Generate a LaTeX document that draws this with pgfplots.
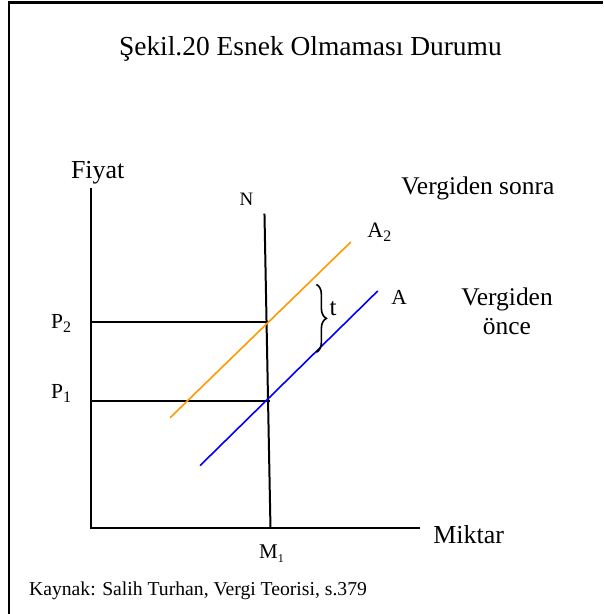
\documentclass[border=0pt]{standalone}
\usepackage{pgfplots}
\pgfplotsset{compat=1.18}
\usepackage{fontspec}
\setmainfont{Liberation Serif}
\usetikzlibrary{decorations.pathreplacing}
\definecolor{supplyorange}{RGB}{255,153,0}
\definecolor{supplyblue}{RGB}{0,0,255}

\newcommand{\fs}[1]{\fontsize{#1}{#1}\selectfont}
% letter with a lowered index, e.g. \sub{21}{P}{15}{2}
\newcommand{\sub}[4]{{\fs{#1}#2}\raisebox{-4pt}{\fs{#3}#4}}

\begin{document}
\begin{tikzpicture}
\begin{axis}[
  hide axis, scale only axis,
  width=603pt, height=614pt,
  xmin=0, xmax=603, ymin=0, ymax=614,
  y dir=reverse,
  clip=false,
  every axis plot/.append style={line cap=rect},
]
\path (axis cs:0,0) rectangle (axis cs:603,614);

% frame (top and left edges)
\addplot[black, line width=2.4pt, mark=none] coordinates {(603,2.5) (9,2.5) (9,614)};

% price and quantity axes
\addplot[black, line width=2pt, mark=none] coordinates {(91,189) (91,529) (420,529)};

% perfectly inelastic demand N
\addplot[black, line width=2pt, mark=none] coordinates {(265,215) (271,529)};

% equilibrium price levels
\addplot[black, line width=2pt, mark=none] coordinates {(91,322.5) (269,322.5)};
\addplot[black, line width=2pt, mark=none] coordinates {(91,401.5) (270,401.5)};

% supply after tax A2
\addplot[supplyorange, line width=1.6pt, mark=none] coordinates {(171,418) (351,243)};
% supply before tax A
\addplot[supplyblue, line width=1.6pt, mark=none] coordinates {(201,466) (378,292)};

% tax wedge t
\draw[decorate, decoration={brace, amplitude=10pt}, line width=1.6pt]
  (axis cs:317,285) -- (axis cs:317,353);

% texts
\node[anchor=base] at (axis cs:311,56) {\fs{27.5}Şekil.20 Esnek Olmaması Durumu};
\node[anchor=base west, inner sep=0pt] at (axis cs:71,179) {\fs{26}Fiyat};
\node[anchor=base west, inner sep=0pt] at (axis cs:402,195) {\fs{25.5}Vergiden sonra};
\node[anchor=base, inner sep=0pt] at (axis cs:247,206) {\fs{19}N};
\node[anchor=base west, inner sep=0pt] at (axis cs:368,238) {\sub{22}{A}{16}{2}};
\node[anchor=base west, inner sep=0pt] at (axis cs:392,305) {\fs{21.5}A};
\node[anchor=base, inner sep=0pt] at (axis cs:508,306) {\fs{25.5}Vergiden};
\node[anchor=base, inner sep=0pt] at (axis cs:508,335) {\fs{25.5}önce};
\node[anchor=base west, inner sep=0pt] at (axis cs:330,316) {\fs{25}t};
\node[anchor=base west, inner sep=0pt] at (axis cs:51,329) {\sub{21.5}{P}{16}{2}};
\node[anchor=base west, inner sep=0pt] at (axis cs:51,399) {\sub{21.5}{P}{16}{1}};
\node[anchor=base, inner sep=0pt] at (axis cs:272,560) {\sub{21}{M}{12}{1}};
\node[anchor=base west, inner sep=0pt] at (axis cs:434,545) {\fs{26}Miktar};
\node[anchor=base west, inner sep=0pt] at (axis cs:29,597) {\fs{19.7}Kaynak: Salih Turhan, Vergi Teorisi, s.379};
\end{axis}
\end{tikzpicture}
\end{document}
